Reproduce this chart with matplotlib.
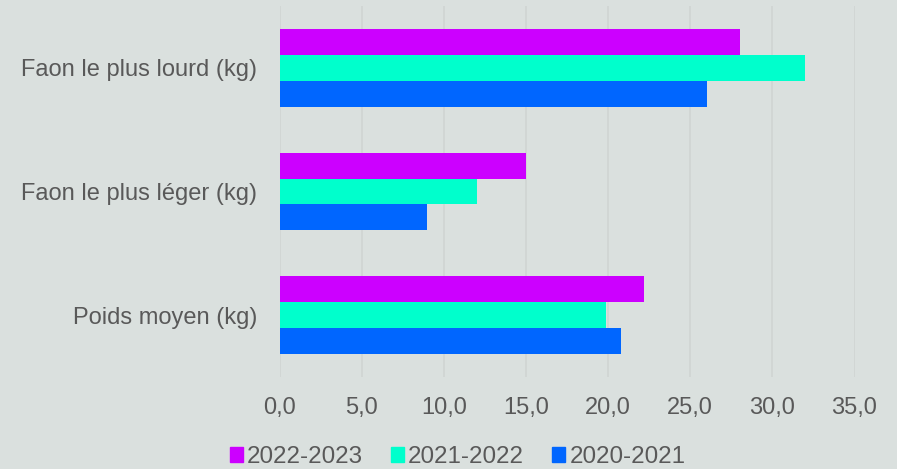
import matplotlib
matplotlib.use('Agg')
from matplotlib import pyplot as plt
import matplotlib.patches as mpatches
import numpy as np

categories = ['Faon le plus lourd (kg)', 'Faon le plus léger (kg)', 'Poids moyen (kg)']
series = ['2022-2023', '2021-2022', '2020-2021']
v_2022_2023 = [28.0, 15.0, 22.2]
v_2021_2022 = [32.0, 12.0, 19.9]
v_2020_2021 = [26.0, 9.0, 20.8]
colors = ['#CC00FF', '#00FFCC', '#0066FF']
ticks = [0, 5, 10, 15, 20, 25, 30, 35]

bg = '#DAE0DE'
txt = '#595959'
plt.rcParams['font.family'] = ['Liberation Sans', 'DejaVu Sans']

fig = plt.figure(figsize=(8.97, 4.69), dpi=100, facecolor=bg)
ax = fig.add_axes([279.5 / 897, 1 - 377 / 469, 575 / 897, 371 / 469])
ax.set_facecolor(bg)

y = np.arange(len(categories))
h = 0.21
for i, vals in enumerate([v_2022_2023, v_2021_2022, v_2020_2021]):
    ax.barh(y + (i - 1) * h, vals, height=h, color=colors[i], zorder=2)

ax.set_ylim(2.5, -0.5)
ax.set_xlim(0, 35)
ax.set_yticks(y)
ax.set_yticklabels(categories)
ax.set_xticks(ticks)
ax.set_xticklabels([('%.1f' % t).replace('.', ',') for t in ticks])

ax.grid(axis='x', color='#D0D4D3', linewidth=1.2, zorder=0)
for s in ax.spines.values():
    s.set_visible(False)
ax.tick_params(axis='y', length=0, pad=16, labelsize=17, labelcolor=txt)
ax.tick_params(axis='x', length=0, pad=14.5, labelsize=17, labelcolor=txt)

# legend below, Excel style
handles = [mpatches.Patch(color=c, label=s) for c, s in zip(colors, series)]
leg = fig.legend(handles=handles, loc='center', bbox_to_anchor=(457.5 / 897, 1 - 457 / 469),
                 ncol=3, frameon=False, fontsize=17.4, handlelength=0.55,
                 handleheight=0.55, handletextpad=0.17, columnspacing=1.15,
                 borderpad=0, borderaxespad=0)
for t in leg.get_texts():
    t.set_color(txt)

plt.savefig('out.png', dpi=100, facecolor=bg)
